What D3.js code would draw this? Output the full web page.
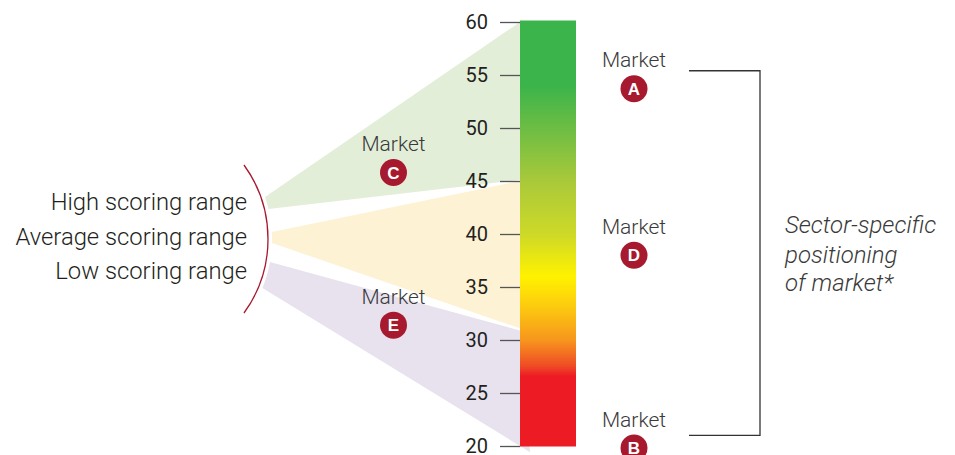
<!DOCTYPE html>
<html>
<head>
<meta charset="utf-8">
<script src="https://cdn.jsdelivr.net/npm/d3@7"></script>
<style>
  html, body { margin: 0; padding: 0; background: #fff; }
  svg { display: block; }
  .light { font-family: Roboto, "Liberation Sans", sans-serif; font-weight: 300; }
</style>
</head>
<body>
<svg id="chart" width="955" height="455"></svg>
<script>
// ---- data ----
const scoreTicks = [20, 25, 30, 35, 40, 45, 50, 55, 60];
const scoreDomain = [20, 60];

// colour ramp of the score bar (score value -> colour)
const rampValues = [60, 54, 45, 40, 36, 33, 30, 27.5, 26.6, 20];
const rampColors = ["#3bb44b", "#3bb44b", "#a9c93a", "#cdd928", "#fff200", "#fcc80f", "#f7961d", "#ef4a25", "#ed1c24", "#ed1c24"];

// scoring ranges: label, upper and lower score where the band meets the bar
const rangeLabels = ["High scoring range", "Average scoring range", "Low scoring range"];
const rangeTop = [60, 45, 30.9];
const rangeBottom = [45.1, 31.1, 20];
const rangeFills = ["#e3eed8", "#fdf2d3", "#e8e2ef"];

// markets placed on the score scale
const marketIds = ["A", "B", "C", "D", "E"];
const marketScores = [53.7, 19.8, 45.8, 38.0, 31.4];
const marketColumn = ["right", "right", "left", "right", "left"];

const noteLines = ["Sector-specific", "positioning", "of market*"];
const bracketScores = [55.4, 21.0];

// ---- layout ----
const svg = d3.select("#chart");
const barX = 520, barW = 56;
const y = d3.scaleLinear().domain(scoreDomain).range([446, 22]);

// lens arc on the left and the points where each band starts
const arcC = { x: 142, y: 239 }, arcR = 126;
const tipTop = [197, 232, 262], tipBottom = [209, 243, 288];
const onArc = (yy, r) => [arcC.x + Math.sqrt(r * r - (yy - arcC.y) ** 2), yy];

// bands fanning out from the arc to the bar
rangeLabels.forEach((lab, i) => {
  const pts = [];
  const n = 6;
  for (let k = 0; k <= n; k++) {
    const yy = tipBottom[i] + (tipTop[i] - tipBottom[i]) * k / n;
    pts.push(onArc(yy, arcR + 4));
  }
  pts.push([barX, y(rangeTop[i])]);
  if (i === 2) {
    // lowest band runs on a little past the foot of the bar
    const a = pts[0], b = [barX, y(rangeBottom[i])];
    const s = (b[1] - a[1]) / (b[0] - a[0]);
    pts.push([barX + 10, b[1] + 10 * s]);
  }
  pts.push([barX, y(rangeBottom[i])]);
  svg.append("polygon")
    .attr("points", pts.map(p => p.join(",")).join(" "))
    .attr("fill", rangeFills[i]);
});

// colour bar
const defs = svg.append("defs");
const grad = defs.append("linearGradient")
  .attr("id", "scoreRamp")
  .attr("gradientUnits", "userSpaceOnUse")
  .attr("x1", 0).attr("x2", 0)
  .attr("y1", y(60)).attr("y2", y(20));
rampValues.forEach((v, i) => {
  grad.append("stop")
    .attr("offset", (60 - v) / 40)
    .attr("stop-color", rampColors[i]);
});
svg.append("rect")
  .attr("x", barX).attr("y", y(60) - 1.5)
  .attr("width", barW).attr("height", y(20) - y(60) + 2)
  .attr("fill", "url(#scoreRamp)");

// score axis
const axis = d3.axisLeft(y).tickValues(scoreTicks).tickSize(20).tickPadding(12);
const gAxis = svg.append("g").attr("transform", `translate(${barX},0)`).call(axis);
gAxis.select(".domain").remove();
gAxis.selectAll(".tick line").attr("stroke", "#555").attr("stroke-width", 1.3);
gAxis.selectAll(".tick text")
  .attr("fill", "#231f20")
  .attr("dy", "0.34em")
  .style("font-family", "Roboto, 'Liberation Sans', sans-serif")
  .style("font-size", "20px");

// lens arc
const a0 = onArc(165, arcR), a1 = onArc(313, arcR);
svg.append("path")
  .attr("d", `M${a0[0]},${a0[1]} A${arcR},${arcR} 0 0 1 ${a1[0]},${a1[1]}`)
  .attr("fill", "none").attr("stroke", "#a6192e").attr("stroke-width", 1.3);

// range labels
const labelBase = [210, 245, 278.5];
rangeLabels.forEach((lab, i) => {
  svg.append("text").attr("class", "light")
    .attr("x", 247).attr("y", labelBase[i])
    .attr("text-anchor", "end")
    .attr("fill", "#231f20")
    .style("font-size", "23.8px")
    .text(lab);
});

// market markers
const colX = { left: 393.5, right: 634 };
marketIds.forEach((id, i) => {
  const cx = colX[marketColumn[i]], cy = y(marketScores[i]);
  const g = svg.append("g");
  g.append("text").attr("class", "light")
    .attr("x", cx).attr("y", cy - 21.5)
    .attr("text-anchor", "middle")
    .attr("fill", "#3a3a3a")
    .style("font-size", "21px")
    .text("Market");
  g.append("circle").attr("cx", cx).attr("cy", cy).attr("r", 13.5).attr("fill", "#a6192e");
  g.append("text")
    .attr("x", cx).attr("y", cy + 6)
    .attr("text-anchor", "middle")
    .attr("fill", "#fff")
    .style("font-family", "'Liberation Sans', Arial, sans-serif")
    .style("font-weight", "bold")
    .style("font-size", "17px")
    .text(id);
});

// bracket grouping the sector-specific markets
const bx0 = 689, bx1 = 760;
svg.append("path")
  .attr("d", `M${bx0},${y(bracketScores[0])} H${bx1} V${y(bracketScores[1])} H${bx0}`)
  .attr("fill", "none").attr("stroke", "#333").attr("stroke-width", 1.3);

const noteBase = [233, 262.5, 290.5];
noteLines.forEach((t, i) => {
  svg.append("text").attr("class", "light")
    .attr("x", 785).attr("y", noteBase[i])
    .attr("fill", "#3a3a3a")
    .style("font-size", "24px")
    .style("font-style", "italic")
    .text(t);
});
</script>
</body>
</html>
